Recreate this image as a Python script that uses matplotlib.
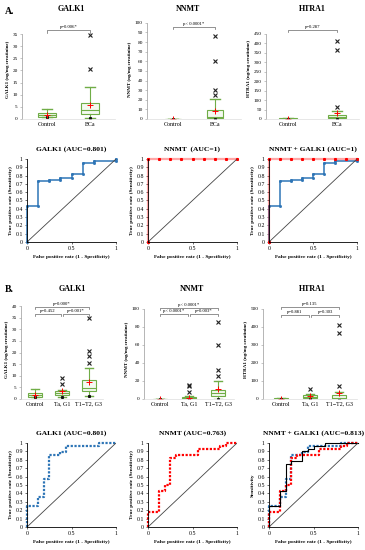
import matplotlib.pyplot as plt

plt.rcParams['font.family'] = ['Liberation Serif', 'DejaVu Serif']

# ---- data ----
groups_a = ["Control", "BCa"]
groups_b = ["Control", "Ta, G1", "T1\u2212T2, G3"]

# box stats per group: [whislo, q1, med, q3, whishi, mean]
galk1_a = [[0.7, 1.0, 1.6, 2.5, 4.1, 1.8], [0.4, 2.0, 3.7, 6.7, 13.2, 5.6]]
galk1_a_fliers = [[], [20.7, 34.7]]
nnmt_a = [[0.0, 0.0, 0.1, 0.2, 0.3, 0.2], [0.0, 1.0, 2.4, 9.3, 20.4, 8.6]]
nnmt_a_fliers = [[], [25.3, 30.0, 60.0, 86.0]]
htra1_a = [[0.0, 0.5, 1.5, 3.0, 5.0, 2.0], [0.0, 3.5, 12.0, 21.0, 42.0, 33.0]]
htra1_a_fliers = [[], [65, 364, 411]]

galk1_b = [[0.7, 1.0, 1.6, 2.5, 4.1, 1.8], [0.8, 1.9, 2.6, 3.6, 3.8, 3.3],
           [1.5, 3.5, 4.7, 8.0, 13.5, 7.5]]
galk1_b_fliers = [[], [6.4, 9.0], [15.7, 18.6, 20.7, 34.7]]
nnmt_b = [[0.0, 0.0, 0.1, 0.2, 0.3, 0.2], [0.0, 0.5, 1.0, 2.2, 3.5, 1.5],
          [0.0, 3.5, 7.0, 10.5, 20.0, 11.0]]
nnmt_b_fliers = [[], [8.2, 14.0, 15.6], [26, 32, 60, 85.5]]
htra1_b = [[0.0, 0.5, 1.5, 3.0, 5.0, 2.0], [0.0, 5.0, 12.0, 22.0, 30.0, 18.0],
           [0.0, 2.0, 7.0, 20.0, 40.0, 32.0]]
htra1_b_fliers = [[], [55], [70, 365, 413]]

p_a = ["p=0.006*", "p< 0.0001*", "p=0.287"]
p_b = [["p=0.000*", "p=0.452", "p=0.001*"],
       ["p< 0.0001*", "p< 0.0001*", "p=0.003*"],
       ["p=0.135", "p=0.881", "p=0.303"]]

# ROC curves (corner points)
galk1_roc_a_x = [0, 0, 0.125, 0.125, 0.25, 0.25, 0.375, 0.375, 0.5, 0.5, 0.625, 0.625, 0.75, 0.75, 1, 1]
galk1_roc_a_y = [0, 0.43, 0.43, 0.73, 0.73, 0.75, 0.75, 0.77, 0.77, 0.82, 0.82, 0.95, 0.95, 0.98, 0.98, 1]
nnmt_roc_a_x = [0, 0, 0.125, 0.25, 0.375, 0.5, 0.625, 0.75, 0.875, 1]
nnmt_roc_a_y = [0, 1, 1, 1, 1, 1, 1, 1, 1, 1]

galk1_roc_b_x = [0, 0, 0.125, 0.125, 0.19, 0.19, 0.25, 0.25, 0.375, 0.375, 0.44, 0.44, 0.81, 0.81, 1]
galk1_roc_b_y = [0, 0.25, 0.25, 0.36, 0.36, 0.57, 0.57, 0.86, 0.86, 0.89, 0.89, 0.96, 0.96, 1, 1]
nnmt_roc_b_x = [0, 0, 0.125, 0.125, 0.19, 0.19, 0.25, 0.25, 0.31, 0.31, 0.56, 0.56, 0.81, 0.81, 0.875, 0.875, 1]
nnmt_roc_b_y = [0, 0.18, 0.18, 0.43, 0.43, 0.5, 0.5, 0.82, 0.82, 0.86, 0.86, 0.93, 0.93, 0.96, 0.96, 1, 1]
comb_roc_b_x = [0, 0, 0.125, 0.125, 0.19, 0.19, 0.25, 0.25, 0.375, 0.375, 0.44, 0.44, 0.5, 0.5, 0.625, 0.625, 1]
comb_roc_b_y = [0, 0.25, 0.25, 0.43, 0.43, 0.75, 0.75, 0.79, 0.79, 0.9, 0.9, 0.93, 0.93, 0.97, 0.97, 1, 1]

roc_yticks = [0, 0.1, 0.2, 0.3, 0.4, 0.5, 0.6, 0.7, 0.8, 0.9, 1]
roc_yticklabels = ["0", "0.1", "0.2", "0.3", "0.4", "0.5", "0.6", "0.7", "0.8", "0.9", "1"]
roc_xticks = [0, 0.5, 1]
roc_xticklabels = ["0", "0.5", "1"]

GREEN = '#70AD47'
BLUE = '#2E75B6'
RED = '#FF0000'

W, H = 365, 550
fig = plt.figure(figsize=(W / 100, H / 100), dpi=100)


def px_axes(x0, y0, x1, y1):
    return fig.add_axes([x0 / W, 1 - y1 / H, (x1 - x0) / W, (y1 - y0) / H])


def px_text(x, y, s, **kw):
    fig.text(x / W, 1 - y / H, s, **kw)


def boxplot(ax, stats, fliers, labels, width, xlim, ylim, yticks, ylabel):
    bs = []
    for s, f, lab in zip(stats, fliers, labels):
        bs.append(dict(whislo=s[0], q1=s[1], med=s[2], q3=s[3], whishi=s[4],
                       mean=s[5], fliers=f, label=lab))
    ax.bxp(bs, widths=width, patch_artist=True, showmeans=True,
           boxprops=dict(facecolor='#f4f9f0', edgecolor=GREEN, lw=0.8),
           medianprops=dict(color=GREEN, lw=0.8),
           whiskerprops=dict(color=GREEN, lw=0.8),
           capprops=dict(color=GREEN, lw=1.0), capwidths=width * 0.55,
           meanprops=dict(marker='+', markeredgecolor=RED, markersize=4, markeredgewidth=0.7),
           flierprops=dict(marker='x', markeredgecolor='#222222', markersize=2.2, markeredgewidth=0.8))
    for i, s in enumerate(stats):
        ax.plot(i + 1, s[0], marker='s', color='#111111', markersize=1.2)
    ax.set_xlim(*xlim)
    ax.set_ylim(*ylim)
    ax.set_yticks(yticks)
    ax.spines['left'].set_bounds(yticks[0], yticks[-1])
    ax.spines['left'].set_color('#999999')
    ax.spines['left'].set_linewidth(0.5)
    ax.spines['bottom'].set_color('#dddddd')
    ax.spines['bottom'].set_linewidth(0.5)
    for sp in ['top', 'right']:
        ax.spines[sp].set_visible(False)
    ax.tick_params(axis='y', labelsize=3.8, length=1.5, width=0.4, pad=1.5, color='#999999')
    ax.tick_params(axis='x', labelsize=4.3, length=0, pad=2)
    ax.set_ylabel(ylabel, fontsize=3.6, fontweight='bold', labelpad=2)


def bracket(ax, x1, x2, y, h, text):
    ax.plot([x1, x1, x2, x2], [y - h, y, y, y - h], color='#666666', lw=0.5, clip_on=False)
    ax.text((x1 + x2) / 2, y + h * 0.4, text, ha='center', va='bottom', fontsize=3.4, clip_on=False)


def roc_axes(ax, title, ylabel="True positive rate (Sensitivity)"):
    ax.plot([0, 1], [0, 1], color='#444444', lw=0.6)
    ax.set_xlim(0, 1)
    ax.set_ylim(0, 1)
    ax.set_xticks(roc_xticks)
    ax.set_xticklabels(roc_xticklabels)
    ax.set_yticks(roc_yticks)
    ax.set_yticklabels(roc_yticklabels)
    for sp in ['top', 'right']:
        ax.spines[sp].set_visible(False)
    for sp in ['left', 'bottom']:
        ax.spines[sp].set_linewidth(0.6)
    ax.tick_params(labelsize=4.2, length=1.5, width=0.4, pad=1.5)
    ax.set_title(title, fontsize=5.4, fontweight='bold', pad=6)
    ax.set_xlabel("False positive rate (1 - Specificity)", fontsize=3.8, fontweight='bold', labelpad=3)
    ax.set_ylabel(ylabel, fontsize=3.8, fontweight='bold', labelpad=2)


# ---- row 1: box plots A ----
ax = px_axes(22, 19, 115, 119)
boxplot(ax, galk1_a, galk1_a_fliers, groups_a, 0.4, (0.42, 2.58), (0, 41.2),
        [0, 5, 10, 15, 20, 25, 30, 35], "GALK1 (ng/mg creatinine)")
bracket(ax, 1, 2, 36.6, 1.0, p_a[0])
px_text(71, 9, "GALK1", fontsize=5.8, fontweight='bold', ha='center', va='center')

ax = px_axes(147, 19, 241, 119)
boxplot(ax, nnmt_a, nnmt_a_fliers, groups_a, 0.4, (0.38, 2.62), (0, 104),
        [0, 10, 20, 30, 40, 50, 60, 70, 80, 90, 100], "NNMT (ng/mg creatinine)")
bracket(ax, 1, 2, 96, 2.6, p_a[1])
px_text(188, 9, "NNMT", fontsize=5.8, fontweight='bold', ha='center', va='center')

ax = px_axes(266, 19, 359, 119)
boxplot(ax, htra1_a, htra1_a_fliers, groups_a, 0.36, (0.55, 2.45), (0, 529),
        [0, 50, 100, 150, 200, 250, 300, 350, 400, 450], "HTRA1 (ng/mg creatinine)")
bracket(ax, 1, 2, 471, 13, p_a[2])
px_text(312, 9, "HTRA1", fontsize=5.8, fontweight='bold', ha='center', va='center')

# ---- row 2: ROC A ----
ax = px_axes(27, 159, 116, 242)
ax.plot(galk1_roc_a_x, galk1_roc_a_y, color=BLUE, lw=1.1, marker='s', markersize=1.0, clip_on=False)
roc_axes(ax, "GALK1 (AUC=0.801)")

ax = px_axes(148, 159, 237, 242)
ax.plot(nnmt_roc_a_x, nnmt_roc_a_y, color=RED, lw=1.6, alpha=0.35, clip_on=False)
ax.plot(nnmt_roc_a_x, nnmt_roc_a_y, color=RED, lw=0, marker='s', markersize=1.2, clip_on=False)
roc_axes(ax, "NNMT  (AUC=1)")

ax = px_axes(269, 159, 357, 242)
ax.plot(galk1_roc_a_x, galk1_roc_a_y, color=BLUE, lw=1.1, marker='s', markersize=1.0, clip_on=False)
ax.plot(nnmt_roc_a_x, nnmt_roc_a_y, color=RED, lw=1.6, alpha=0.35, clip_on=False)
ax.plot(nnmt_roc_a_x, nnmt_roc_a_y, color=RED, lw=0, marker='s', markersize=1.2, clip_on=False)
roc_axes(ax, "NNMT + GALK1 (AUC=1)")

# ---- row 3: box plots B ----
ax = px_axes(21, 300, 103, 399)
boxplot(ax, galk1_b, galk1_b_fliers, groups_b, 0.52, (0.48, 3.52), (0, 42.6),
        [0, 5, 10, 15, 20, 25, 30, 35, 40], "GALK1 (ng/mg creatinine)")
bracket(ax, 1, 3, 39.6, 1.0, p_b[0][0])
bracket(ax, 1, 1.96, 36.6, 1.0, p_b[0][1])
bracket(ax, 2.04, 3, 36.6, 1.0, p_b[0][2])
px_text(72, 289, "GALK1", fontsize=5.8, fontweight='bold', ha='center', va='center')

ax = px_axes(144, 300, 234, 399)
boxplot(ax, nnmt_b, nnmt_b_fliers, groups_b, 0.5, (0.45, 3.55), (0, 110),
        [0, 20, 40, 60, 80, 100], "NNMT (ng/mg creatinine)")
bracket(ax, 1, 3, 101.4, 2.6, p_b[1][0])
bracket(ax, 1, 1.96, 94.6, 2.6, p_b[1][1])
bracket(ax, 2.04, 3, 94.6, 2.6, p_b[1][2])
px_text(192, 289, "NNMT", fontsize=5.8, fontweight='bold', ha='center', va='center')

ax = px_axes(263, 300, 357, 399)
boxplot(ax, htra1_b, htra1_b_fliers, groups_b, 0.5, (0.38, 3.62), (0, 550),
        [0, 100, 200, 300, 400, 500], "HTRA1 (ng/mg creatinine)")
bracket(ax, 1, 3, 511, 13, p_b[2][0])
bracket(ax, 1, 1.96, 467, 13, p_b[2][1])
bracket(ax, 2.04, 3, 467, 13, p_b[2][2])
px_text(312, 289, "HTRA1", fontsize=5.8, fontweight='bold', ha='center', va='center')

# ---- row 4: ROC B ----
dots = (0, (1, 0.7))
ax = px_axes(27, 443, 116, 527)
ax.plot(galk1_roc_b_x, galk1_roc_b_y, color=BLUE, lw=1.6, ls=dots, clip_on=False)
roc_axes(ax, "GALK1 (AUC=0.801)")

ax = px_axes(148, 443, 237, 527)
ax.plot(nnmt_roc_b_x, nnmt_roc_b_y, color=RED, lw=1.6, ls=dots, clip_on=False)
roc_axes(ax, "NNMT (AUC=0.763)")

ax = px_axes(269, 443, 358, 527)
ax.plot(galk1_roc_b_x, galk1_roc_b_y, color=BLUE, lw=1.6, ls=dots, clip_on=False)
ax.plot(nnmt_roc_b_x, nnmt_roc_b_y, color=RED, lw=1.6, ls=dots, clip_on=False)
ax.plot(comb_roc_b_x, comb_roc_b_y, color='black', lw=0.8, clip_on=False)
roc_axes(ax, "NNMT + GALK1 (AUC=0.813)", ylabel="Sensitivity")

px_text(5, 12, "A.", fontsize=7, fontweight='bold', va='center')
px_text(5, 290, "B.", fontsize=7, fontweight='bold', va='center')

fig.savefig("out.png", dpi=100)
